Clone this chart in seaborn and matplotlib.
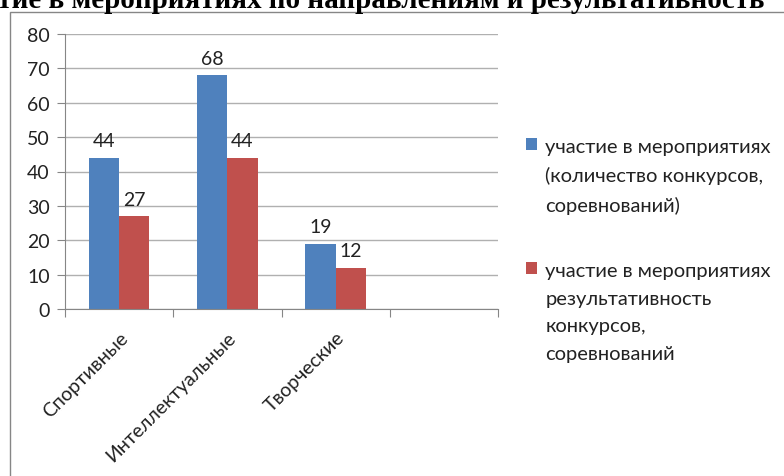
import matplotlib.pyplot as plt
import matplotlib.patches as mpatches
import seaborn as sns
import pandas as pd

categories = ['Спортивные', 'Интеллектуальные', 'Творческие']
series_names = ['участие в мероприятиях\n(количество конкурсов,\nсоревнований)',
                'участие в мероприятиях\nрезультативность\nконкурсов,\nсоревнований']
participation = [44, 68, 19]
results = [27, 44, 12]
title = 'Участие в мероприятиях по направлениям и результативность'

df = pd.DataFrame({
    'category': categories * 2,
    'series': [series_names[0]] * 3 + [series_names[1]] * 3,
    'value': participation + results,
})

sns.set_style('white')
plt.rcParams['font.family'] = ['Lato', 'DejaVu Sans']

fig = plt.figure(figsize=(7.84, 4.77), dpi=100)
ax = fig.add_axes([65 / 784, 1 - 310 / 477, 433 / 784, 275 / 477])

sns.barplot(data=df, x='category', y='value', hue='series', order=categories,
            palette=['#4F81BD', '#C0504D'], saturation=1, width=0.56,
            linewidth=0, ax=ax, legend=True)

for cont in ax.containers:
    ax.bar_label(cont, padding=6, fontsize=14, color='#222222')

ax.set_xlim(-0.5, 3.5)
ax.set_ylim(0, 80)
ax.set_yticks(range(0, 81, 10))
ax.yaxis.grid(True, color='#B0B0B0', linewidth=1)
ax.set_axisbelow(True)
ax.set_xlabel('')
ax.set_ylabel('')

ax.set_xticks([-0.5, 0.5, 1.5, 2.5, 3.5])
ax.set_xticklabels([])
ax.set_xticks(range(len(categories)), minor=True)
ax.set_xticklabels(categories, minor=True, rotation=45, ha='right',
                   rotation_mode='anchor', fontsize=14, color='#222222')
ax.tick_params(axis='x', which='minor', length=0, pad=14)
ax.tick_params(axis='x', which='major', length=6, color='#868686', direction='out')
ax.tick_params(axis='y', length=6, color='#868686', direction='out', labelsize=14,
               labelcolor='#222222', pad=5)
ax.tick_params(bottom=True, left=True)

for side in ['top', 'right']:
    ax.spines[side].set_visible(False)
for side in ['left', 'bottom']:
    ax.spines[side].set_color('#868686')

handles, labels = ax.get_legend_handles_labels()
ax.get_legend().remove()
leg = fig.legend(handles, labels, loc='upper left', bbox_to_anchor=(526 / 784, 1 - 139 / 477),
                 frameon=False, fontsize=14.5, handlelength=0.55, handleheight=0.55,
                 handletextpad=0.4, labelspacing=2.4, alignment='left',
                 borderpad=0, borderaxespad=0)
for t in leg.get_texts():
    t.set_linespacing(1.75)
    t.set_color('#222222')
for col in leg._legend_handle_box.get_children():
    for row in col.get_children():
        row.align = 'top'

frame = mpatches.Rectangle((10 / 784, -0.1), 1.2, 1 - 13 / 477 + 0.1,
                           transform=fig.transFigure, fill=False,
                           edgecolor='#868686', linewidth=1)
fig.patches.append(frame)

fig.text(764 / 784, 1 - 8 / 477, title, ha='right', va='baseline',
         fontsize=21, fontweight='bold', family='Liberation Serif', color='black')

fig.savefig('out.png', dpi=100)
